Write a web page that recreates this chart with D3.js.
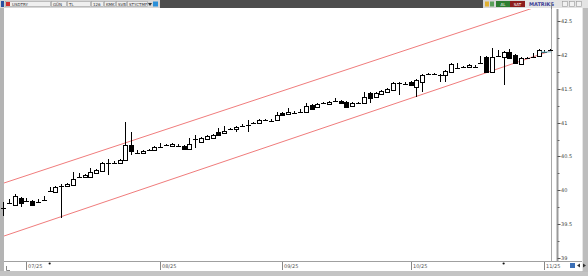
<!DOCTYPE html>
<html>
<head>
<meta charset="utf-8">
<script src="https://cdn.jsdelivr.net/npm/d3@7"></script>
<style>
  body { margin: 0; background: #fff; overflow: hidden; }
  svg { display: block; }
  text { font-family: "DejaVu Sans", Arial, sans-serif; }
</style>
</head>
<body>
<svg id="chart" width="588" height="276"></svg>
<script>
// daily USDTRY candles, Jun 25 - Nov 4 2025
const dates = [
  "2025-06-25","2025-06-26","2025-06-27","2025-06-30",
  "2025-07-01","2025-07-02","2025-07-03","2025-07-04","2025-07-07","2025-07-08","2025-07-09","2025-07-10",
  "2025-07-11","2025-07-14","2025-07-15","2025-07-16","2025-07-17","2025-07-18","2025-07-21","2025-07-22",
  "2025-07-23","2025-07-24","2025-07-25","2025-07-28","2025-07-29","2025-07-30","2025-07-31",
  "2025-08-01","2025-08-04","2025-08-05","2025-08-06","2025-08-07","2025-08-08","2025-08-11","2025-08-12",
  "2025-08-13","2025-08-14","2025-08-15","2025-08-18","2025-08-19","2025-08-20","2025-08-21","2025-08-22",
  "2025-08-25","2025-08-26","2025-08-27","2025-08-28","2025-08-29",
  "2025-09-01","2025-09-02","2025-09-03","2025-09-04","2025-09-05","2025-09-08","2025-09-09","2025-09-10",
  "2025-09-11","2025-09-12","2025-09-15","2025-09-16","2025-09-17","2025-09-18","2025-09-19","2025-09-22",
  "2025-09-23","2025-09-24","2025-09-25","2025-09-26","2025-09-29","2025-09-30",
  "2025-10-01","2025-10-02","2025-10-03","2025-10-06","2025-10-07","2025-10-08","2025-10-09","2025-10-10",
  "2025-10-13","2025-10-14","2025-10-15","2025-10-16","2025-10-17","2025-10-20","2025-10-21","2025-10-22",
  "2025-10-23","2025-10-24","2025-10-27","2025-10-28","2025-10-29","2025-10-30","2025-10-31",
  "2025-11-03","2025-11-04"
];

const open = [
  39.723,39.804,39.782,39.886,39.856,39.841,39.826,39.849,39.981,39.974,40.055,40.063,40.078,40.188,40.196,40.196,
  40.255,40.284,40.395,40.402,40.402,40.447,40.668,40.565,40.550,40.587,40.595,40.631,40.661,40.654,40.668,40.654,
  40.609,40.757,40.713,40.757,40.772,40.860,40.846,40.897,40.905,40.942,40.956,40.986,40.993,41.030,41.038,41.038,
  41.141,41.126,41.134,41.148,41.156,41.259,41.230,41.281,41.274,41.311,41.318,41.303,41.244,41.281,41.289,41.436,
  41.377,41.429,41.451,41.481,41.577,41.584,41.599,41.525,41.599,41.710,41.717,41.695,41.702,41.747,41.798,41.813,
  41.820,41.835,41.872,41.968,41.747,41.975,41.968,42.042,41.998,41.865,41.946,41.961,41.983,42.057,42.064
];
const high = [
  39.826,39.871,39.945,39.900,39.886,39.856,39.871,39.915,40.048,40.063,40.092,40.107,40.270,40.255,40.240,40.329,
  40.314,40.417,40.462,40.432,40.462,41.008,40.860,40.595,40.595,40.609,40.654,40.698,40.683,40.698,40.683,40.668,
  40.772,40.816,40.786,40.816,40.831,40.919,40.949,40.919,40.949,40.978,41.038,41.008,41.052,41.052,41.052,41.156,
  41.156,41.215,41.171,41.200,41.289,41.274,41.289,41.303,41.318,41.363,41.333,41.318,41.303,41.303,41.451,41.451,
  41.451,41.481,41.510,41.599,41.599,41.599,41.614,41.643,41.717,41.732,41.732,41.717,41.776,41.880,41.880,41.835,
  41.865,41.850,41.983,41.983,42.101,42.072,42.057,42.086,42.012,41.968,41.968,42.027,42.086,42.072,42.086
];
const low = [
  39.620,39.797,39.767,39.753,39.826,39.767,39.812,39.841,39.974,39.959,39.590,40.048,40.063,40.181,40.181,40.181,
  40.240,40.270,40.225,40.388,40.388,40.432,40.521,40.535,40.535,40.580,40.580,40.624,40.654,40.639,40.654,40.595,
  40.595,40.624,40.698,40.742,40.757,40.801,40.831,40.890,40.860,40.934,40.860,40.978,40.978,41.023,41.023,41.023,
  41.097,41.111,41.126,41.141,41.141,41.185,41.215,41.274,41.259,41.303,41.274,41.215,41.230,41.274,41.274,41.289,
  41.363,41.422,41.436,41.466,41.407,41.569,41.540,41.377,41.451,41.702,41.702,41.599,41.599,41.732,41.791,41.806,
  41.806,41.820,41.865,41.732,41.732,41.968,41.555,41.939,41.865,41.850,41.939,41.953,41.968,42.042,42.057
];
const close = [
  39.738,39.812,39.915,39.812,39.849,39.782,39.834,39.856,39.989,40.048,40.063,40.092,40.166,40.196,40.225,40.270,
  40.299,40.402,40.402,40.410,40.447,40.668,40.580,40.558,40.580,40.595,40.639,40.639,40.668,40.683,40.661,40.609,
  40.683,40.764,40.772,40.801,40.816,40.816,40.875,40.905,40.934,40.949,40.964,40.993,41.038,41.038,41.030,41.111,
  41.111,41.156,41.141,41.156,41.244,41.200,41.274,41.289,41.303,41.318,41.289,41.230,41.289,41.289,41.377,41.363,
  41.436,41.466,41.495,41.584,41.584,41.577,41.555,41.628,41.702,41.717,41.710,41.702,41.761,41.865,41.806,41.820,
  41.850,41.828,41.880,41.747,41.968,41.983,42.042,41.953,41.880,41.953,41.953,41.968,42.072,42.049,42.072
];

// trend channel drawn on the chart (two anchor points each)
const channelUpper = [{ date: "2025-06-25", value: 40.103 }, { date: "2025-10-29", value: 42.662 }];
const channelLower = [{ date: "2025-06-25", value: 39.320 }, { date: "2025-11-03", value: 42.027 }];

const priceTicks = [39, 39.5, 40, 40.5, 41, 41.5, 42, 42.5];
const monthTickDates = ["2025-07-01", "2025-08-01", "2025-09-01", "2025-10-01", "2025-11-03"];
const monthTickLabels = ["07/25", "08/25", "09/25", "10/25", "11/25"];
const eventDates = ["2025-07-07", "2025-10-23"];

const toolbarFields = ["USDTRY", "GÜN", "TL", "126", "KMK", "SVB", "STYCTMF"];

const W = 588, H = 276;
const plot = { left: 4, right: 551, top: 9, bottom: 261 };

const svg = d3.select("#chart");

const x = d3.scalePoint().domain(dates).range([3.1, 550.2]);
const y = d3.scaleLinear().domain([39, 42.5]).range([258, 21]);

const candles = dates.map((d, i) => ({ date: d, o: open[i], h: high[i], l: low[i], c: close[i] }));

// frame pieces
svg.append("rect").attr("x", 0).attr("y", 0).attr("width", W).attr("height", H).attr("fill", "#fff");
svg.append("rect").attr("x", 0).attr("y", 8).attr("width", 4).attr("height", 264).attr("fill", "#b4b4b4");
svg.append("rect").attr("x", 0).attr("y", 271).attr("width", W).attr("height", 5).attr("fill", "#c4c4c4");
svg.append("rect").attr("x", 582).attr("y", 8).attr("width", 6).attr("height", 264).attr("fill", "#bdbdbd");
svg.append("line").attr("x1", 582.5).attr("x2", 582.5).attr("y1", 8).attr("y2", 271).attr("stroke", "#e6e6e6");

// plot borders
svg.append("line").attr("x1", plot.right + 0.5).attr("x2", plot.right + 0.5).attr("y1", plot.top).attr("y2", plot.bottom)
  .attr("stroke", "#a8a8a8");
svg.append("line").attr("x1", plot.left).attr("x2", 582).attr("y1", plot.bottom + 0.5).attr("y2", plot.bottom + 0.5)
  .attr("stroke", "#a0a0a0");

svg.append("defs").append("clipPath").attr("id", "clip")
  .append("rect").attr("x", plot.left).attr("y", plot.top)
  .attr("width", plot.right - plot.left).attr("height", plot.bottom - plot.top);

// channel lines, extended across the plot
function channelLine(pts) {
  const x1 = x(pts[0].date), y1 = y(pts[0].value);
  const x2 = x(pts[1].date), y2 = y(pts[1].value);
  const k = (y2 - y1) / (x2 - x1);
  return [[plot.left, y1 + k * (plot.left - x1)], [plot.right, y1 + k * (plot.right - x1)]];
}
const gChan = svg.append("g").attr("clip-path", "url(#clip)");
[channelUpper, channelLower].forEach(pts => {
  gChan.append("path")
    .attr("d", d3.line()(channelLine(pts)))
    .attr("fill", "none")
    .attr("stroke", "#f07c7c")
    .attr("stroke-width", 1);
});

// candles
const gC = svg.append("g").attr("shape-rendering", "crispEdges");
candles.forEach(d => {
  const cx = Math.round(x(d.date)) + 0.5;
  gC.append("line")
    .attr("x1", cx).attr("x2", cx)
    .attr("y1", y(d.h)).attr("y2", y(d.l))
    .attr("stroke", "#000");
  const yo = y(d.o), yc = y(d.c);
  if (Math.abs(yo - yc) < 1.2) {
    gC.append("line")
      .attr("x1", cx - 2.5).attr("x2", cx + 2.5)
      .attr("y1", Math.round(yc) + 0.5).attr("y2", Math.round(yc) + 0.5)
      .attr("stroke", "#000");
  } else {
    const top = Math.round(Math.min(yo, yc)) + 0.5;
    const bot = Math.round(Math.max(yo, yc)) + 0.5;
    gC.append("rect")
      .attr("x", cx - 2).attr("y", top)
      .attr("width", 4).attr("height", bot - top)
      .attr("fill", d.c >= d.o ? "#fff" : "#000")
      .attr("stroke", "#000");
  }
});

// last price marker
const last = candles[candles.length - 1];
svg.append("line").attr("x1", 541).attr("x2", plot.right).attr("y1", y(last.c) + 2).attr("y2", y(last.c) + 2)
  .attr("stroke", "#7fd4e6").attr("stroke-width", 1);

// right price axis
const axX = 557.5;
svg.append("line").attr("x1", axX).attr("x2", axX).attr("y1", plot.top).attr("y2", plot.bottom)
  .attr("stroke", "#9a9a9a").attr("stroke-width", 2);
const minorTicks = d3.range(39.25, 42.6, 0.5);
svg.append("g").selectAll("line").data(minorTicks).join("line")
  .attr("x1", axX).attr("x2", axX + 2)
  .attr("y1", v => Math.round(y(v)) + 0.5).attr("y2", v => Math.round(y(v)) + 0.5)
  .attr("stroke", "#666");
const gTicks = svg.append("g").selectAll("g").data(priceTicks).join("g")
  .attr("transform", v => `translate(0,${Math.round(y(v)) + 0.5})`);
gTicks.append("line").attr("x1", axX).attr("x2", axX + 3).attr("stroke", "#555");
gTicks.append("text").attr("x", axX + 3.5).attr("dy", "0.35em")
  .attr("font-size", 5).attr("fill", "#444")
  .text(v => String(v));

// bottom date axis
const gMonths = svg.append("g").selectAll("g").data(monthTickDates).join("g")
  .attr("transform", d => `translate(${Math.round(x(d)) + 0.5},0)`);
gMonths.append("line").attr("y1", 262).attr("y2", 270).attr("stroke", "#888");
gMonths.append("text").attr("x", 1.5).attr("y", 268)
  .attr("font-size", 5).attr("fill", "#555")
  .text((d, i) => monthTickLabels[i]);

// event markers
svg.append("g").selectAll("circle").data(eventDates).join("circle")
  .attr("cx", d => x(d)).attr("cy", 263.5).attr("r", 1.1).attr("fill", "#111");

// bottom corner glyphs
svg.append("path").attr("d", "M6.5,266 V270.5 H10").attr("fill", "none").attr("stroke", "#888");
svg.append("rect").attr("x", 570).attr("y", 263).attr("width", 5).attr("height", 5).attr("fill", "#3b6fb6");
svg.append("path").attr("d", "M577,265.5 L580,263.5 L580,267.5 Z M586,265.5 L583,263.5 L583,267.5 Z").attr("fill", "#333");

// toolbar
const tb = svg.append("g");
tb.append("rect").attr("x", 0).attr("y", 0).attr("width", W).attr("height", 8).attr("fill", "#d6d6d6");
tb.append("rect").attr("x", 160).attr("y", 0).attr("width", 323).attr("height", 8).attr("fill", "#4d4d4d");
tb.append("rect").attr("x", 1).attr("y", 1).attr("width", 3).attr("height", 6).attr("fill", "#2b4fa0");
const fieldX = [5, 51, 67, 91, 104, 116, 127];
const fieldW = [45, 15, 23, 12, 11, 10, 20];
toolbarFields.forEach((t, i) => {
  tb.append("rect").attr("x", fieldX[i] + 0.5).attr("y", 1.5).attr("width", fieldW[i]).attr("height", 5)
    .attr("fill", "#efefef").attr("stroke", "#a0a0a0").attr("stroke-width", 0.6);
  tb.append("text").attr("x", fieldX[i] + (i === 0 ? 7 : 2)).attr("y", 5.8)
    .attr("font-size", 4).attr("fill", "#333").text(t);
});
tb.append("rect").attr("x", 6).attr("y", 2).attr("width", 4).attr("height", 4).attr("fill", "#d32f2f");
tb.append("path").attr("d", "M148,3 L152,3 L150,6 Z").attr("fill", "#333");
tb.append("rect").attr("x", 153).attr("y", 1.5).attr("width", 5).attr("height", 5).attr("fill", "#2a8fd8");
tb.append("rect").attr("x", 485).attr("y", 1.5).attr("width", 4).attr("height", 5).attr("fill", "#e0b030");
tb.append("rect").attr("x", 490).attr("y", 1.5).attr("width", 4).attr("height", 5).attr("fill", "#5aa05a");
tb.append("rect").attr("x", 496).attr("y", 1).attr("width", 14).attr("height", 6).attr("fill", "#2e7d32");
tb.append("text").attr("x", 503).attr("y", 5.8).attr("text-anchor", "middle").attr("font-size", 4)
  .attr("fill", "#fff").text("AL");
tb.append("rect").attr("x", 510).attr("y", 1).attr("width", 15).attr("height", 6).attr("fill", "#8e1c1c");
tb.append("text").attr("x", 517.5).attr("y", 5.8).attr("text-anchor", "middle").attr("font-size", 4)
  .attr("fill", "#fff").text("SAT");
tb.append("rect").attr("x", 525).attr("y", 0).attr("width", 63).attr("height", 8).attr("fill", "#e4e4e4");
tb.append("text").attr("x", 529).attr("y", 6).attr("font-size", 5).attr("font-weight", "bold")
  .attr("fill", "#3c3c96").text("MATRIKS");
[562, 569, 576].forEach(bx => {
  tb.append("rect").attr("x", bx + 0.5).attr("y", 1.5).attr("width", 5).attr("height", 5)
    .attr("fill", "#f2f2f2").attr("stroke", "#999").attr("stroke-width", 0.6);
});
tb.append("line").attr("x1", plot.right + 0.5).attr("x2", plot.right + 0.5).attr("y1", 3).attr("y2", 9).attr("stroke", "#888");
</script>
</body>
</html>
